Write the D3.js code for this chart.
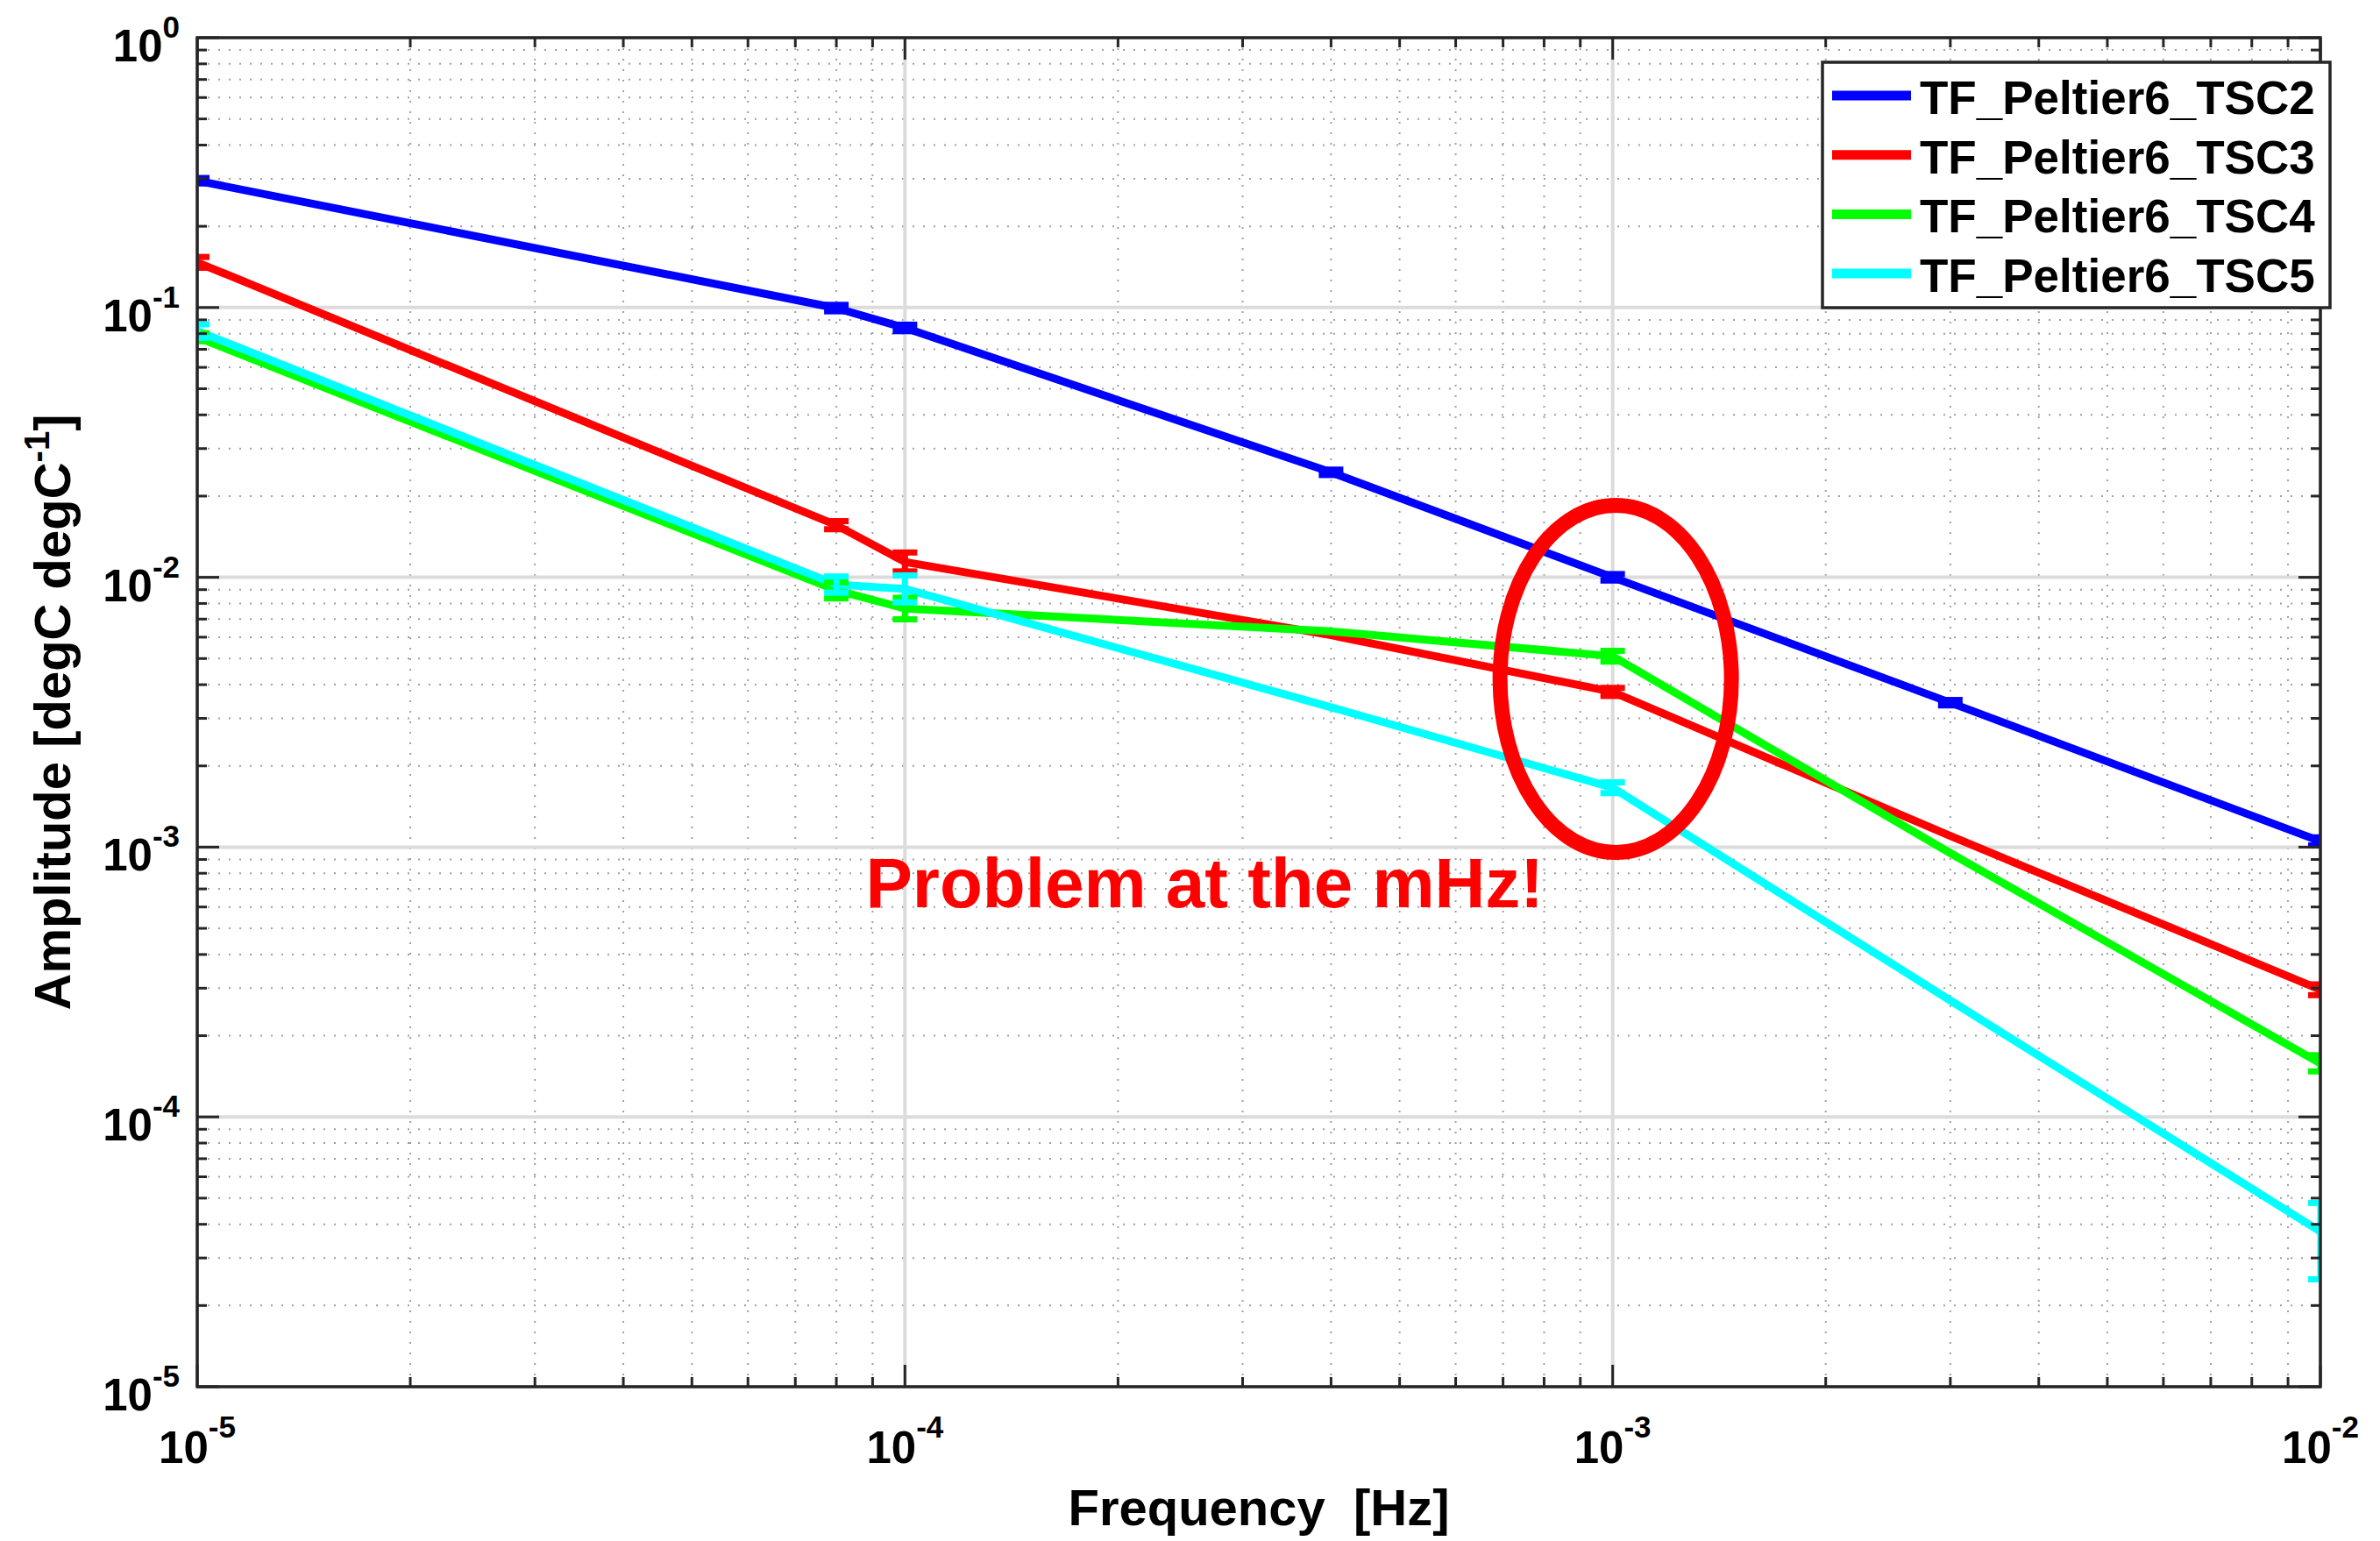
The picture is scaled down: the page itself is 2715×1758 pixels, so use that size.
<!DOCTYPE html>
<html>
<head>
<meta charset="utf-8">
<script src="https://cdn.jsdelivr.net/npm/d3@7"></script>
<style>
  html, body { margin: 0; padding: 0; background: #fff; }
  svg { display: block; }
  text { font-family: "Liberation Sans", Arial, Helvetica, sans-serif; font-weight: bold; white-space: pre; }
</style>
</head>
<body>
<script>
// ---------------- data ----------------
const freqs = [1e-5, 8e-5, 1e-4, 4e-4, 1e-3, 3e-3, 1e-2];
const seriesNames = ["TF_Peltier6_TSC2", "TF_Peltier6_TSC3", "TF_Peltier6_TSC4", "TF_Peltier6_TSC5"];
const seriesColors = ["#0000ff", "#ff0000", "#00ff00", "#00ffff"];
const tsc2 = [0.295, 0.0995, 0.084, 0.0245, 0.0100, 0.00343, 0.00105];
const tsc3 = [0.147, 0.0156, 0.0114, 0.0061, 0.00376, 0.0011, 0.000296];
const tsc4 = [0.0776, 0.00895, 0.00766, 0.0063, 0.0051, 0.00095, 0.000158];
const tsc5 = [0.0818, 0.0094, 0.00906, 0.0033, 0.00166, 0.00027, 0.0000376];
// error bar half-widths in decades (single value = symmetric, pair = [below, above])
const err2 = [0.01, 0.012, 0.012, 0.01, 0.012, 0.01, 0.015];
const err3 = [0.02, 0.015, 0.035, 0, 0.015, 0, 0.02];
const err4 = [0.015, 0.03, 0.04, 0, 0.02, 0, 0.03];
const err5 = [0.025, 0.03, 0.05, 0, 0.02, 0, [0.177, 0.106]];
const xTickExps = [-5, -4, -3, -2];
const yTickExps = [0, -1, -2, -3, -4, -5];
const xTitle = "Frequency\u00a0\u00a0[Hz]";
const annotationText = "Problem at the mHz!";

const seriesValues = [tsc2, tsc3, tsc4, tsc5];
const seriesErrs = [err2, err3, err4, err5];

// ---------------- layout ----------------
const W = 2715, H = 1758;
const L = 225, R = 2647, T = 43, B = 1582;
const AX = "#262626";

const svg = d3.select("body").append("svg").attr("width", W).attr("height", H);

const x = d3.scaleLog().domain([1e-5, 1e-2]).range([L, R]);
const y = d3.scaleLog().domain([1e-5, 1]).range([B, T]);

// grid
const minorVals = (lo, hi) => {
  const out = [];
  for (let e = lo; e < hi; e++) for (let k = 2; k <= 9; k++) out.push(k * Math.pow(10, e));
  return out;
};
const xMinor = minorVals(-5, -2);
const yMinor = minorVals(-5, 0);
const xMajor = xTickExps.map(e => Math.pow(10, e));
const yMajor = yTickExps.map(e => Math.pow(10, e));

const grid = svg.append("g");
grid.selectAll(".gmx").data(xMinor).enter().append("line")
  .attr("x1", d => x(d)).attr("x2", d => x(d)).attr("y1", T).attr("y2", B)
  .attr("stroke", "#a0a0a0").attr("stroke-width", 2).attr("stroke-dasharray", "2,10");
grid.selectAll(".gmy").data(yMinor).enter().append("line")
  .attr("y1", d => y(d)).attr("y2", d => y(d)).attr("x1", L).attr("x2", R)
  .attr("stroke", "#a0a0a0").attr("stroke-width", 2).attr("stroke-dasharray", "2,10");
grid.selectAll(".gMx").data(xMajor).enter().append("line")
  .attr("x1", d => x(d)).attr("x2", d => x(d)).attr("y1", T).attr("y2", B)
  .attr("stroke", "#dcdcdc").attr("stroke-width", 4);
grid.selectAll(".gMy").data(yMajor).enter().append("line")
  .attr("y1", d => y(d)).attr("y2", d => y(d)).attr("x1", L).attr("x2", R)
  .attr("stroke", "#dcdcdc").attr("stroke-width", 4);

// clip
svg.append("defs").append("clipPath").attr("id", "plotclip")
  .append("rect").attr("x", L).attr("y", T).attr("width", R - L).attr("height", B - T);

const plot = svg.append("g").attr("clip-path", "url(#plotclip)");
const line = d3.line().x(d => x(d[0])).y(d => y(d[1]));

seriesValues.forEach((vals, i) => {
  const pts = freqs.map((f, j) => [f, vals[j]]);
  plot.append("path").datum(pts)
    .attr("d", line).attr("fill", "none")
    .attr("stroke", seriesColors[i]).attr("stroke-width", 9)
    .attr("stroke-linejoin", "round");
});
// error bars
const capW = 14;
seriesValues.forEach((vals, i) => {
  const g = plot.append("g").attr("stroke", seriesColors[i]).attr("stroke-width", 7).attr("fill", "none");
  freqs.forEach((f, j) => {
    const e = seriesErrs[i][j];
    const lo = Array.isArray(e) ? e[0] : e, hi = Array.isArray(e) ? e[1] : e;
    if (lo === 0 && hi === 0) return;
    const v = vals[j];
    const y1 = y(v * Math.pow(10, -lo)), y2 = y(v * Math.pow(10, hi));
    const cx = x(f);
    g.append("line").attr("x1", cx).attr("x2", cx).attr("y1", y1).attr("y2", y2);
    g.append("line").attr("x1", cx - capW).attr("x2", cx + capW).attr("y1", y1).attr("y2", y1);
    g.append("line").attr("x1", cx - capW).attr("x2", cx + capW).attr("y1", y2).attr("y2", y2);
  });
});

// axes box and ticks
const axg = svg.append("g").attr("stroke", AX);
const majL = 25, minL = 11;
xMajor.forEach(v => {
  axg.append("line").attr("x1", x(v)).attr("x2", x(v)).attr("y1", B).attr("y2", B - majL).attr("stroke-width", 3);
  axg.append("line").attr("x1", x(v)).attr("x2", x(v)).attr("y1", T).attr("y2", T + majL).attr("stroke-width", 3);
});
xMinor.forEach(v => {
  axg.append("line").attr("x1", x(v)).attr("x2", x(v)).attr("y1", B).attr("y2", B - minL).attr("stroke-width", 3);
  axg.append("line").attr("x1", x(v)).attr("x2", x(v)).attr("y1", T).attr("y2", T + minL).attr("stroke-width", 3);
});
yMajor.forEach(v => {
  axg.append("line").attr("y1", y(v)).attr("y2", y(v)).attr("x1", L).attr("x2", L + majL).attr("stroke-width", 3);
  axg.append("line").attr("y1", y(v)).attr("y2", y(v)).attr("x1", R).attr("x2", R - majL).attr("stroke-width", 3);
});
yMinor.forEach(v => {
  axg.append("line").attr("y1", y(v)).attr("y2", y(v)).attr("x1", L).attr("x2", L + minL).attr("stroke-width", 3);
  axg.append("line").attr("y1", y(v)).attr("y2", y(v)).attr("x1", R).attr("x2", R - minL).attr("stroke-width", 3);
});
axg.append("rect").attr("x", L).attr("y", T).attr("width", R - L).attr("height", B - T)
  .attr("fill", "none").attr("stroke-width", 3.5);

// tick labels
const lab = svg.append("g").attr("fill", "#000");
xTickExps.forEach(e => {
  const t = lab.append("text").attr("x", x(Math.pow(10, e))).attr("y", B + 87)
    .attr("text-anchor", "middle").attr("font-size", 51);
  t.append("tspan").text("10");
  t.append("tspan").attr("font-size", 35).attr("dy", -29).text(String(e));
});
yTickExps.forEach(e => {
  const t = lab.append("text").attr("x", 205).attr("y", y(Math.pow(10, e)) + 27)
    .attr("text-anchor", "end").attr("font-size", 51);
  t.append("tspan").text("10");
  t.append("tspan").attr("font-size", 35).attr("dy", -27).text(String(e));
});

// axis titles
svg.append("text").attr("x", (L + R) / 2).attr("y", 1740)
  .attr("text-anchor", "middle").attr("font-size", 58).text(xTitle);
const yt = svg.append("text").attr("transform", `translate(80,${(T + B) / 2}) rotate(-90)`)
  .attr("text-anchor", "middle").attr("font-size", 58);
yt.append("tspan").text("Amplitude [degC degC");
yt.append("tspan").attr("font-size", 40).attr("dy", -24).text("-1");
yt.append("tspan").attr("dy", 24).text("]");

// legend
const lgX = 2079, lgY = 71, lgW = 579, lgH = 280;
const lg = svg.append("g");
lg.append("rect").attr("x", lgX).attr("y", lgY).attr("width", lgW).attr("height", lgH)
  .attr("fill", "#fff").attr("stroke", AX).attr("stroke-width", 3.5);
seriesNames.forEach((name, i) => {
  const cy = lgY + 38 + i * 67.7;
  lg.append("line").attr("x1", lgX + 11).attr("x2", lgX + 101).attr("y1", cy).attr("y2", cy)
    .attr("stroke", seriesColors[i]).attr("stroke-width", 11);
  lg.append("text").attr("x", lgX + 111).attr("y", cy + 21).attr("font-size", 53)
    .attr("fill", "#000").text(name);
});

// annotation
svg.append("ellipse").attr("cx", x(1.01e-3)).attr("cy", y(4.2e-3))
  .attr("rx", 132).attr("ry", 198).attr("fill", "none")
  .attr("stroke", "#ff0000").attr("stroke-width", 17);
svg.append("text").attr("x", x(8.8e-5)).attr("y", y(5.98e-4))
  .attr("font-size", 80).attr("fill", "#ff0000").text(annotationText);
</script>
</body>
</html>
